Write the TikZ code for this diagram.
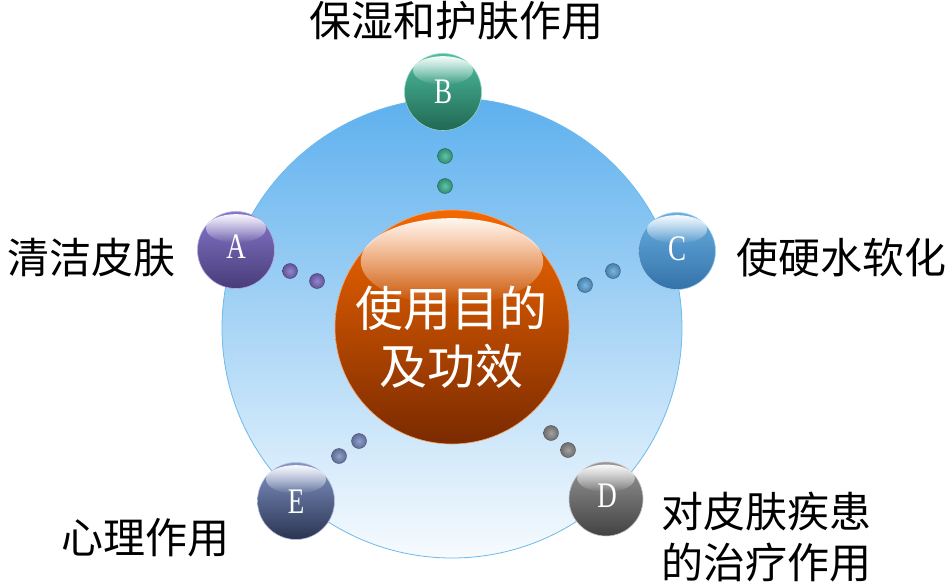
\documentclass[tikz,border=0pt]{standalone}
\usepackage{fontspec}
\setmainfont{Liberation Serif}
\newfontfamily\cjk{Noto Sans CJK SC}
\usetikzlibrary{fadings}

\definecolor{RingTop}{RGB}{93,176,238}
\definecolor{RingBot}{RGB}{247,251,254}
\definecolor{RingLine}{RGB}{110,185,235}
\definecolor{CoreTop}{RGB}{244,104,0}
\definecolor{CoreMid}{RGB}{214,86,0}
\definecolor{CoreBot}{RGB}{122,42,0}
\definecolor{AClr}{RGB}{128,112,200}
\definecolor{ABot}{RGB}{72,60,122}
\definecolor{BClr}{RGB}{66,186,152}
\definecolor{BBot}{RGB}{34,104,84}
\definecolor{CClr}{RGB}{96,170,224}
\definecolor{CBot}{RGB}{52,114,168}
\definecolor{DClr}{RGB}{146,146,146}
\definecolor{DBot}{RGB}{66,66,66}
\definecolor{EClr}{RGB}{124,144,196}
\definecolor{EBot}{RGB}{42,52,82}

% glossy ball: centre, radius, top, middle, bottom colour
\newcommand{\glossball}[5]{%
  \shadedraw[top color=#3, middle color=#4, bottom color=#5,
    draw=#3!60!white, line width=0.6pt] (#1) circle (#2pt);
  \fill[white, path fading=south, fill opacity=0.95]
    ([yshift=0.56*#2pt]#1) ellipse ({0.78*#2pt} and {0.37*#2pt});
}

\tikzset{
  lbl/.style={inner sep=0pt, font=\cjk\fontsize{42}{51}\selectfont},
  core/.style={inner sep=0pt, text=white, align=center,
    font=\cjk\fontsize{48}{58}\selectfont},
  letter/.style={inner sep=0pt, text=white, font=\fontsize{36}{36}\selectfont},
  dot/.style={draw=#1!55!black, line width=0.4pt, inner color=#1!85!white, outer color=#1!75!black}
}

\begin{document}
\begin{tikzpicture}[x=1pt,y=-1pt]
\useasboundingbox (0,0) rectangle (950,586);

% Define the centres of the ring and of the balls.
\coordinate (O) at (452,328);
\coordinate (M) at (452,327);
\coordinate (A) at (236,250);
\coordinate (B) at (443,92);
\coordinate (C) at (677,251);
\coordinate (D) at (606,499);
\coordinate (E) at (296,501);

% Draw the big ring.
\shadedraw[top color=RingTop, bottom color=RingBot, draw=RingLine, line width=0.8pt] (O) circle (230pt);

% Small dots between the core and the balls.
\foreach \x/\y/\c in {445/156/BClr, 445/186/BClr, 290/271/AClr, 317/281/AClr,
  613/271/CClr, 585/285/CClr, 551/433/DClr, 568/450/DClr, 359/441/EClr, 339/456/EClr}
  \shadedraw[dot=\c] (\x,\y) circle (7.5pt);

% Draw the core and the balls.
\glossball{M}{117}{CoreTop}{CoreMid}{CoreBot}
\glossball{A}{38.5}{AClr!95!white}{AClr}{ABot}
\glossball{B}{38.5}{BClr!95!white}{BClr}{BBot}
\glossball{C}{38.5}{CClr!95!white}{CClr}{CBot}
\glossball{D}{37}{DClr!95!white}{DClr}{DBot}
\glossball{E}{38.5}{EClr!95!white}{EClr}{EBot}

\node[letter] (lA) at (236,247) {\scalebox{0.75}[1]{A}};
\node[letter] (lB) at (443,92) {\scalebox{0.75}[1]{B}};
\node[letter] (lC) at (677,249) {\scalebox{0.75}[1]{C}};
\node[letter] (lD) at (607,496) {\scalebox{0.75}[1]{D}};
\node[letter] (lE) at (296,502) {\scalebox{0.75}[1]{E}};

\node[core] (tM) at (451,337) {使用目的\\及功效};

\node[lbl] (tB) at (456,21) {保湿和护肤作用};
\node[lbl] (tA) at (91,258) {清洁皮肤};
\node[lbl] (tC) at (841,258) {使硬水软化};
\node[lbl, align=center] (tD) at (766,537) {对皮肤疾患\\的治疗作用};
\node[lbl] (tE) at (145,538) {心理作用};

\end{tikzpicture}
\end{document}
